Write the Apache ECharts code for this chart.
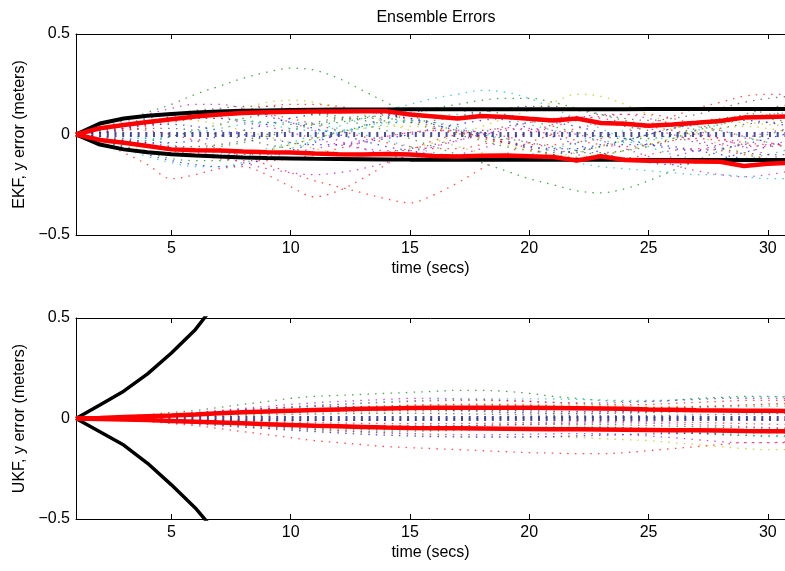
<!DOCTYPE html>
<html>
<head>
<meta charset="utf-8">
<script src="https://cdn.jsdelivr.net/npm/echarts@6/dist/echarts.min.js"></script>
<style>html,body{margin:0;padding:0;background:#fff;}#c{width:785px;height:571px;}</style>
</head>
<body>
<div id="c"></div>
<script>
// ---------- data ----------
const times = [1,2,3,4,5,6,7,8,9,10,11,12,13,14,15,16,17,18,19,20,21,22,23,24,25,26,27,28,29,30,31];
const xTickValues = [5,10,15,20,25,30];
const yTickValues = [-0.5,0,0.5];

// EKF ensemble members (y error, metres)
const ekf1  = [0,0.03,0.07,0.11,0.15,0.2,0.24,0.28,0.31,0.33,0.32,0.28,0.22,0.16,0.1,0.05,0.02,0.0,-0.02,-0.04,-0.06,-0.08,-0.1,-0.08,-0.05,-0.02,0.02,0.05,0.08,0.1,0.11];
const ekf2  = [0,-0.04,-0.09,-0.15,-0.22,-0.2,-0.17,-0.16,-0.2,-0.26,-0.31,-0.28,-0.22,-0.15,-0.08,-0.03,0.0,0.02,0.03,0.02,0.0,-0.03,-0.05,-0.06,-0.05,-0.03,-0.02,-0.03,-0.05,-0.06,-0.05];
const ekf3  = [0,0.02,0.03,0.02,0.0,-0.03,-0.07,-0.11,-0.15,-0.19,-0.23,-0.26,-0.29,-0.32,-0.34,-0.3,-0.24,-0.17,-0.1,-0.04,0.0,0.03,0.05,0.05,0.04,0.02,0.0,-0.02,-0.04,-0.05,-0.05];
const ekf4  = [0,0.01,0.0,-0.02,-0.05,-0.08,-0.1,-0.09,-0.07,-0.04,0.0,0.04,0.08,0.12,0.15,0.18,0.2,0.22,0.21,0.18,0.13,0.08,0.03,-0.02,-0.06,-0.1,-0.12,-0.13,-0.12,-0.1,-0.07];
const ekf5  = [0,0.02,0.05,0.07,0.08,0.07,0.05,0.02,-0.01,-0.04,-0.07,-0.09,-0.1,-0.09,-0.07,-0.04,0.0,0.04,0.08,0.12,0.16,0.2,0.19,0.15,0.1,0.05,0.0,-0.05,-0.09,-0.12,-0.13];
const ekf6  = [0,-0.02,-0.03,-0.03,-0.01,0.02,0.05,0.08,0.1,0.11,0.1,0.08,0.05,0.02,-0.02,-0.06,-0.1,-0.14,-0.18,-0.22,-0.25,-0.28,-0.29,-0.27,-0.23,-0.18,-0.13,-0.08,-0.04,0.0,0.03];
const ekf7  = [0,0.03,0.06,0.1,0.13,0.15,0.15,0.13,0.1,0.06,0.02,-0.03,-0.07,-0.1,-0.12,-0.12,-0.1,-0.07,-0.03,0.01,0.05,0.08,0.1,0.1,0.08,0.05,0.02,-0.02,-0.06,-0.1,-0.13];
const ekf8  = [0,-0.03,-0.06,-0.1,-0.13,-0.15,-0.16,-0.15,-0.12,-0.08,-0.04,0.0,0.04,0.08,0.11,0.12,0.12,0.1,0.07,0.03,-0.01,-0.05,-0.09,-0.12,-0.14,-0.15,-0.14,-0.12,-0.09,-0.06,-0.03];
const ekf9  = [0,0.02,0.05,0.08,0.1,0.12,0.13,0.14,0.14,0.13,0.11,0.09,0.07,0.06,0.06,0.07,0.09,0.11,0.13,0.14,0.14,0.12,0.1,0.08,0.07,0.08,0.1,0.13,0.16,0.18,0.19];
const ekf10 = [0,0.01,0.02,0.04,0.06,0.08,0.1,0.12,0.14,0.15,0.15,0.14,0.12,0.1,0.07,0.04,0.01,-0.02,-0.04,-0.05,-0.05,-0.04,-0.02,0.01,0.05,0.09,0.13,0.16,0.19,0.2,0.2];
const ekf11 = [0,-0.03,-0.07,-0.11,-0.14,-0.16,-0.16,-0.14,-0.11,-0.07,-0.03,0.01,0.04,0.06,0.07,0.06,0.04,0.01,-0.03,-0.07,-0.11,-0.14,-0.16,-0.17,-0.18,-0.19,-0.2,-0.2,-0.21,-0.22,-0.22];
const ekf12 = [0,-0.02,-0.04,-0.06,-0.07,-0.09,-0.11,-0.14,-0.17,-0.19,-0.2,-0.19,-0.17,-0.14,-0.1,-0.06,-0.03,0.0,0.02,0.03,0.02,0.0,-0.03,-0.07,-0.11,-0.15,-0.18,-0.2,-0.21,-0.2,-0.18];
const ekf13 = [0,0.02,0.04,0.05,0.07,0.09,0.11,0.13,0.16,0.17,0.16,0.13,0.1,0.06,0.02,-0.02,-0.06,-0.09,-0.11,-0.12,-0.11,-0.09,-0.06,-0.03,0.0,0.03,0.05,0.06,0.06,0.05,0.04];
const ekf14 = [0,-0.03,-0.06,-0.09,-0.12,-0.13,-0.13,-0.11,-0.08,-0.05,-0.02,0.01,0.04,0.07,0.1,0.13,0.15,0.17,0.18,0.18,0.16,0.13,0.1,0.07,0.05,0.04,0.05,0.07,0.1,0.13,0.15];
const ekf15 = [0,0.01,0.03,0.06,0.09,0.11,0.12,0.11,0.09,0.06,0.03,0.0,-0.03,-0.06,-0.08,-0.1,-0.12,-0.13,-0.13,-0.12,-0.1,-0.08,-0.06,-0.05,-0.05,-0.06,-0.08,-0.1,-0.12,-0.14,-0.15];
const ekf16 = [0,-0.01,-0.03,-0.05,-0.06,-0.06,-0.05,-0.03,0.0,0.03,0.06,0.08,0.09,0.09,0.08,0.06,0.03,0.0,-0.03,-0.06,-0.08,-0.09,-0.09,-0.08,-0.06,-0.03,0.0,0.03,0.05,0.06,0.06];
const ekf17 = [0,0.02,0.04,0.05,0.05,0.04,0.02,0.0,-0.02,-0.04,-0.05,-0.05,-0.04,-0.02,0.0,0.03,0.05,0.07,0.08,0.08,0.06,0.04,0.01,-0.02,-0.05,-0.07,-0.08,-0.07,-0.05,-0.02,0.01];
const ekf18 = [0,-0.02,-0.04,-0.06,-0.07,-0.07,-0.06,-0.04,-0.01,0.02,0.05,0.07,0.08,0.08,0.06,0.03,0.0,-0.03,-0.06,-0.08,-0.09,-0.08,-0.06,-0.03,0.0,0.03,0.06,0.08,0.09,0.08,0.06];
const ekf19 = [0,0.01,0.03,0.05,0.08,0.1,0.11,0.11,0.1,0.08,0.05,0.02,-0.01,-0.04,-0.06,-0.07,-0.07,-0.05,-0.02,0.01,0.04,0.07,0.09,0.1,0.1,0.08,0.05,0.02,-0.01,-0.04,-0.06];
const ekf20 = [0,0.02,0.05,0.08,0.1,0.1,0.09,0.07,0.05,0.03,0.02,0.02,0.03,0.05,0.07,0.09,0.1,0.1,0.08,0.05,0.02,-0.01,-0.03,-0.04,-0.03,-0.01,0.02,0.05,0.08,0.1,0.11];
const ekf21 = [0,-0.01,-0.02,-0.04,-0.06,-0.08,-0.09,-0.1,-0.1,-0.09,-0.07,-0.05,-0.03,-0.01,0.01,0.02,0.02,0.01,-0.01,-0.04,-0.07,-0.1,-0.12,-0.13,-0.13,-0.11,-0.08,-0.05,-0.02,0.01,0.03];
const ekf22 = [0,-0.02,-0.05,-0.08,-0.1,-0.11,-0.11,-0.1,-0.08,-0.05,-0.02,0.01,0.03,0.04,0.04,0.03,0.01,-0.02,-0.05,-0.08,-0.1,-0.11,-0.1,-0.08,-0.05,-0.02,0.01,0.03,0.04,0.03,0.01];
const ekf23 = [0,0.01,0.02,0.03,0.03,0.02,0.0,-0.02,-0.05,-0.07,-0.09,-0.1,-0.1,-0.09,-0.07,-0.05,-0.02,0.01,0.04,0.06,0.07,0.07,0.06,0.04,0.02,-0.01,-0.04,-0.07,-0.09,-0.1,-0.1];
const ekf24 = [0,-0.02,-0.03,-0.04,-0.04,-0.03,-0.01,0.02,0.05,0.08,0.1,0.11,0.11,0.1,0.08,0.05,0.02,-0.01,-0.04,-0.06,-0.07,-0.07,-0.05,-0.03,0.0,0.03,0.05,0.07,0.07,0.06,0.04];
const ekf25 = [0,0.02,0.04,0.06,0.07,0.08,0.08,0.07,0.06,0.05,0.05,0.06,0.08,0.1,0.12,0.13,0.13,0.12,0.1,0.07,0.04,0.01,-0.01,-0.02,-0.02,0.0,0.03,0.06,0.09,0.12,0.14];
const ekf26 = [0,-0.01,-0.03,-0.05,-0.08,-0.1,-0.12,-0.13,-0.13,-0.12,-0.1,-0.07,-0.04,-0.01,0.01,0.02,0.01,-0.01,-0.04,-0.07,-0.1,-0.12,-0.13,-0.12,-0.1,-0.08,-0.07,-0.08,-0.1,-0.12,-0.13];
const ekf27 = [0,-0.01,-0.02,-0.02,-0.01,0.01,0.03,0.05,0.06,0.06,0.05,0.03,0.0,-0.03,-0.06,-0.09,-0.11,-0.12,-0.12,-0.1,-0.07,-0.04,-0.01,0.02,0.04,0.05,0.04,0.02,-0.01,-0.04,-0.07];
const ekf28 = [0,0.01,0.03,0.05,0.07,0.08,0.08,0.06,0.04,0.01,-0.02,-0.05,-0.07,-0.08,-0.08,-0.06,-0.03,0.0,0.03,0.06,0.08,0.09,0.08,0.06,0.03,0.0,-0.03,-0.05,-0.06,-0.05,-0.03];
const zeroTrack = [0,0,0,0,0,0,0,0,0,0,0,0,0,0,0,0,0,0,0,0,0,0,0,0,0,0,0,0,0,0,0];

const ekfRedUpper = [0,0.031,0.047,0.062,0.076,0.089,0.1,0.107,0.111,0.113,0.114,0.115,0.116,0.116,0.1,0.09,0.08,0.092,0.087,0.078,0.07,0.08,0.057,0.053,0.044,0.05,0.058,0.067,0.084,0.087,0.09];
const ekfRedLower = [0,-0.027,-0.041,-0.057,-0.074,-0.078,-0.08,-0.085,-0.088,-0.09,-0.095,-0.098,-0.1,-0.097,-0.1,-0.107,-0.11,-0.106,-0.105,-0.108,-0.112,-0.13,-0.108,-0.127,-0.13,-0.132,-0.134,-0.136,-0.157,-0.145,-0.14];
const ekfBlackUpper = [0,0.055,0.08,0.093,0.102,0.109,0.114,0.118,0.12,0.122,0.123,0.124,0.125,0.125,0.126,0.126,0.126,0.126,0.126,0.126,0.126,0.126,0.126,0.126,0.127,0.127,0.127,0.127,0.127,0.127,0.127];
const ekfBlackLower = [0,-0.05,-0.074,-0.088,-0.098,-0.105,-0.11,-0.114,-0.117,-0.119,-0.121,-0.122,-0.123,-0.124,-0.125,-0.125,-0.125,-0.125,-0.126,-0.126,-0.126,-0.126,-0.126,-0.126,-0.127,-0.127,-0.127,-0.127,-0.127,-0.127,-0.127];

// UKF ensemble members
const ukf1  = [0,-0.003,-0.008,-0.015,-0.025,-0.035,-0.05,-0.065,-0.08,-0.095,-0.11,-0.12,-0.13,-0.14,-0.145,-0.15,-0.155,-0.16,-0.165,-0.17,-0.172,-0.175,-0.175,-0.17,-0.16,-0.15,-0.14,-0.13,-0.12,-0.12,-0.12];
const ukf2  = [0,0.004,0.01,0.02,0.03,0.04,0.055,0.07,0.085,0.1,0.11,0.115,0.12,0.125,0.13,0.135,0.14,0.14,0.135,0.125,0.11,0.1,0.09,0.085,0.085,0.09,0.1,0.105,0.11,0.11,0.105];
const ukf3  = [0,0.003,0.007,0.012,0.02,0.028,0.036,0.045,0.05,0.055,0.06,0.06,0.058,0.055,0.05,0.045,0.04,0.035,0.03,0.028,0.025,0.025,0.025,0.028,0.03,0.033,0.035,0.035,0.033,0.03,0.028];
const ukf4  = [0,-0.002,-0.005,-0.01,-0.016,-0.022,-0.03,-0.038,-0.045,-0.05,-0.055,-0.06,-0.063,-0.065,-0.065,-0.063,-0.06,-0.055,-0.05,-0.045,-0.04,-0.038,-0.04,-0.045,-0.05,-0.06,-0.07,-0.08,-0.085,-0.09,-0.09];
const ukf5  = [0,0.003,0.008,0.015,0.022,0.03,0.04,0.05,0.06,0.07,0.078,0.085,0.09,0.095,0.1,0.1,0.098,0.095,0.09,0.085,0.08,0.078,0.078,0.08,0.085,0.09,0.095,0.1,0.1,0.1,0.098];
const ukf6  = [0,-0.002,-0.006,-0.012,-0.018,-0.025,-0.032,-0.04,-0.047,-0.053,-0.06,-0.065,-0.07,-0.075,-0.08,-0.085,-0.088,-0.09,-0.09,-0.09,-0.092,-0.095,-0.1,-0.105,-0.11,-0.12,-0.13,-0.14,-0.15,-0.155,-0.155];
const ukf7  = [0,0.001,0.003,0.005,0.008,0.01,0.012,0.015,0.018,0.02,0.022,0.024,0.025,0.026,0.026,0.025,0.024,0.022,0.02,0.018,0.016,0.015,0.014,0.014,0.015,0.016,0.018,0.02,0.022,0.024,0.025];
const ukf8  = [0,0.003,0.008,0.014,0.02,0.027,0.035,0.043,0.05,0.058,0.065,0.07,0.075,0.08,0.085,0.088,0.09,0.09,0.088,0.085,0.08,0.075,0.07,0.068,0.07,0.075,0.08,0.085,0.09,0.09,0.09];
const ukf9  = [0,-0.002,-0.005,-0.009,-0.014,-0.02,-0.026,-0.032,-0.038,-0.043,-0.048,-0.052,-0.055,-0.057,-0.058,-0.058,-0.056,-0.054,-0.052,-0.05,-0.05,-0.052,-0.055,-0.06,-0.065,-0.07,-0.075,-0.08,-0.083,-0.085,-0.085];
const ukf10 = [0,-0.003,-0.008,-0.014,-0.02,-0.027,-0.035,-0.043,-0.05,-0.058,-0.065,-0.072,-0.078,-0.083,-0.087,-0.09,-0.092,-0.093,-0.093,-0.092,-0.09,-0.087,-0.083,-0.08,-0.077,-0.075,-0.073,-0.072,-0.072,-0.072,-0.072];
const ukf11 = [0,0.002,0.005,0.01,0.016,0.022,0.03,0.038,0.046,0.054,0.062,0.07,0.077,0.083,0.088,0.092,0.095,0.097,0.098,0.098,0.097,0.095,0.092,0.09,0.09,0.092,0.095,0.1,0.105,0.108,0.11];
const ukf12 = [0,-0.002,-0.005,-0.01,-0.015,-0.02,-0.026,-0.033,-0.04,-0.047,-0.054,-0.06,-0.066,-0.071,-0.075,-0.078,-0.08,-0.081,-0.08,-0.078,-0.076,-0.075,-0.076,-0.08,-0.087,-0.095,-0.105,-0.115,-0.12,-0.12,-0.115];
const ukf13 = [0,0.002,0.004,0.008,0.012,0.017,0.022,0.028,0.034,0.04,0.046,0.052,0.057,0.062,0.066,0.07,0.072,0.073,0.073,0.072,0.07,0.068,0.065,0.062,0.06,0.06,0.06,0.062,0.065,0.068,0.07];
const ukf14 = [0,-0.001,-0.002,-0.004,-0.006,-0.008,-0.01,-0.012,-0.015,-0.018,-0.02,-0.022,-0.024,-0.025,-0.026,-0.026,-0.025,-0.024,-0.022,-0.02,-0.018,-0.016,-0.015,-0.015,-0.016,-0.018,-0.02,-0.022,-0.025,-0.028,-0.03];
const ukf15 = [0,0.001,0.003,0.006,0.01,0.014,0.018,0.022,0.026,0.03,0.033,0.036,0.038,0.04,0.041,0.042,0.042,0.041,0.04,0.038,0.036,0.035,0.034,0.034,0.035,0.036,0.038,0.04,0.042,0.044,0.045];
const ukf16 = [0,-0.001,-0.003,-0.006,-0.01,-0.014,-0.018,-0.022,-0.026,-0.03,-0.033,-0.035,-0.037,-0.038,-0.038,-0.037,-0.036,-0.034,-0.032,-0.03,-0.029,-0.029,-0.03,-0.032,-0.035,-0.038,-0.041,-0.044,-0.046,-0.048,-0.05];
const ukf17 = [0,0.002,0.004,0.007,0.011,0.015,0.02,0.025,0.03,0.035,0.04,0.045,0.05,0.054,0.058,0.061,0.063,0.064,0.064,0.063,0.061,0.059,0.057,0.055,0.054,0.054,0.055,0.057,0.059,0.06,0.06];
const ukf18 = [0,-0.001,-0.002,-0.004,-0.007,-0.01,-0.013,-0.016,-0.02,-0.024,-0.028,-0.031,-0.034,-0.036,-0.037,-0.037,-0.036,-0.034,-0.031,-0.028,-0.025,-0.023,-0.022,-0.022,-0.024,-0.027,-0.031,-0.035,-0.04,-0.045,-0.048];
const ukf19 = [0,0.0,-0.001,-0.002,-0.003,-0.005,-0.006,-0.008,-0.009,-0.01,-0.01,-0.01,-0.009,-0.008,-0.006,-0.004,-0.002,0.0,0.002,0.004,0.005,0.006,0.006,0.005,0.004,0.002,0.0,-0.002,-0.004,-0.006,-0.008];
const ukf20 = [0,0.001,0.002,0.004,0.006,0.009,0.012,0.015,0.018,0.021,0.024,0.027,0.03,0.032,0.034,0.035,0.035,0.035,0.034,0.032,0.03,0.029,0.028,0.028,0.029,0.031,0.034,0.037,0.04,0.043,0.045];
const ukf21 = [0,0.002,0.005,0.009,0.014,0.019,0.025,0.031,0.037,0.043,0.049,0.054,0.059,0.063,0.066,0.068,0.069,0.069,0.068,0.066,0.063,0.06,0.057,0.055,0.054,0.055,0.058,0.062,0.067,0.072,0.076];
const ukf22 = [0,-0.002,-0.004,-0.007,-0.011,-0.015,-0.02,-0.025,-0.03,-0.035,-0.04,-0.044,-0.048,-0.051,-0.053,-0.054,-0.054,-0.053,-0.051,-0.049,-0.047,-0.046,-0.046,-0.047,-0.049,-0.052,-0.056,-0.06,-0.064,-0.067,-0.07];

const ukfRedUpper = [0,0.003,0.007,0.011,0.015,0.02,0.026,0.031,0.035,0.039,0.042,0.045,0.048,0.05,0.052,0.053,0.054,0.054,0.054,0.053,0.052,0.051,0.05,0.048,0.045,0.043,0.041,0.04,0.039,0.038,0.037];
const ukfRedLower = [0,-0.002,-0.005,-0.008,-0.012,-0.016,-0.02,-0.024,-0.028,-0.032,-0.036,-0.039,-0.042,-0.045,-0.047,-0.048,-0.049,-0.05,-0.051,-0.052,-0.053,-0.054,-0.055,-0.056,-0.057,-0.058,-0.059,-0.06,-0.062,-0.063,-0.064];
const ukfBlackUpper = [0,0.067,0.136,0.222,0.326,0.442,0.595,0.75,null,null,null,null,null,null,null,null,null,null,null,null,null,null,null,null,null,null,null,null,null,null,null];
const ukfBlackLower = [0,-0.066,-0.132,-0.223,-0.33,-0.445,-0.585,-0.74,null,null,null,null,null,null,null,null,null,null,null,null,null,null,null,null,null,null,null,null,null,null,null];

const ekfMembers = [ekf1,ekf2,ekf3,ekf4,ekf5,ekf6,ekf7,ekf8,ekf9,ekf10,ekf11,ekf12,ekf13,ekf14,ekf15,ekf16,ekf17,ekf18,ekf19,ekf20,ekf21,ekf22,ekf23,ekf24,ekf25,ekf26,ekf27,ekf28];
const ekfMemberColors = ['#008000','#ff0000','#ff0000','#00bfbf','#bfbf00','#008000','#bf00bf','#0000ff','#404040','#ff0000','#00bfbf','#bf00bf','#bfbf00','#008000','#0000ff','#404040',
  '#0000ff','#008000','#ff0000','#00bfbf','#bf00bf','#bfbf00','#404040','#0000ff','#008000','#ff0000','#00bfbf','#bf00bf'];
const ukfMembers = [ukf1,ukf2,ukf3,ukf4,ukf5,ukf6,ukf7,ukf8,ukf9,ukf10,ukf11,ukf12,ukf13,ukf14,ukf15,ukf16,ukf17,ukf18,ukf19,ukf20,ukf21,ukf22];
const ukfMemberColors = ['#ff0000','#008000','#0000ff','#00bfbf','#bf00bf','#bfbf00','#404040','#ff0000','#008000','#0000ff','#00bfbf','#bf00bf','#bfbf00','#ff0000',
  '#0000ff','#008000','#00bfbf','#bf00bf','#404040','#bfbf00','#ff0000','#0000ff'];

// ---------- chart ----------
const FONT = 'Liberation Sans, Arial, sans-serif';
const pairs = arr => times.map((t, i) => [t, arr[i]]);

function xAxes(gi) {
  return [{
    type: 'value', gridIndex: gi, min: 1, max: 30.72, position: 'bottom',
    name: 'time (secs)', nameLocation: 'middle', nameGap: 26,
    nameTextStyle: { fontFamily: FONT, fontSize: 16, color: '#000' },
    axisLine: { show: true, onZero: false, lineStyle: { color: '#000', width: 1 } },
    axisTick: { show: true, inside: true, length: 5, customValues: xTickValues, lineStyle: { color: '#000' } },
    axisLabel: { show: true, customValues: xTickValues, margin: 6, fontFamily: FONT, fontSize: 16, color: '#000' },
    splitLine: { show: false }
  }, {
    type: 'value', gridIndex: gi, min: 1, max: 30.72, position: 'top',
    axisLine: { show: true, onZero: false, lineStyle: { color: '#000', width: 1 } },
    axisTick: { show: true, inside: true, length: 5, customValues: xTickValues, lineStyle: { color: '#000' } },
    axisLabel: { show: false },
    splitLine: { show: false }
  }];
}
function yAxis(gi, name) {
  return {
    type: 'value', gridIndex: gi, min: yTickValues[0], max: yTickValues[2], interval: 0.5,
    name: name, nameLocation: 'middle', nameGap: 47, nameRotate: 90,
    nameTextStyle: { fontFamily: FONT, fontSize: 16, color: '#000' },
    axisLine: { show: true, onZero: false, lineStyle: { color: '#000', width: 1 } },
    axisTick: { show: true, inside: true, length: 5, lineStyle: { color: '#000' } },
    axisLabel: { margin: 6, fontFamily: FONT, fontSize: 16, color: '#000',
      formatter: v => (v < 0 ? '\u2212' + Math.abs(v) : String(v)) },
    splitLine: { show: false }
  };
}

const series = [];
function addPanel(members, colors, redU, redL, blkU, blkL, xi, yi, blkW) {
  members.forEach((m, i) => series.push({
    type: 'line', xAxisIndex: xi, yAxisIndex: yi, data: pairs(m), showSymbol: false, smooth: 0.35,
    silent: true, z: 2, lineStyle: { color: colors[i], width: 1.3, type: [1.5, 6.2], opacity: 0.7 }
  }));
  series.push({
    type: 'line', xAxisIndex: xi, yAxisIndex: yi, data: pairs(zeroTrack), showSymbol: false,
    silent: true, z: 3, lineStyle: { color: '#2b2b8c', width: 5, type: [2, 5.7], opacity: 0.85 }
  });
  [blkU, blkL].forEach(d => series.push({
    type: 'line', xAxisIndex: xi, yAxisIndex: yi, data: pairs(d), showSymbol: false, connectNulls: false,
    silent: true, z: 4, lineStyle: { color: '#000', width: blkW }
  }));
  [redU, redL].forEach(d => series.push({
    type: 'line', xAxisIndex: xi, yAxisIndex: yi, data: pairs(d), showSymbol: false,
    silent: true, z: 5, lineStyle: { color: '#ff0000', width: 4.5 }
  }));
}
addPanel(ekfMembers, ekfMemberColors, ekfRedUpper, ekfRedLower, ekfBlackUpper, ekfBlackLower, 0, 0, 4);
addPanel(ukfMembers, ukfMemberColors, ukfRedUpper, ukfRedLower, ukfBlackUpper, ukfBlackLower, 2, 1, 3.5);

const chart = echarts.init(document.getElementById('c'), null, { renderer: 'canvas' });
chart.setOption({
  animation: false,
  backgroundColor: '#fff',
  title: { text: 'Ensemble Errors', left: 431, top: 5, textAlign: 'center',
    textStyle: { fontFamily: FONT, fontSize: 16, fontWeight: 'normal', color: '#000' } },
  grid: [
    { left: 76, right: 0, top: 34, height: 201, containLabel: false },
    { left: 76, right: 0, top: 318, height: 201, containLabel: false }
  ],
  xAxis: [...xAxes(0), ...xAxes(1)],
  yAxis: [yAxis(0, 'EKF, y error (meters)'), yAxis(1, 'UKF, y error (meters)')],
  series: series
});
</script>
</body>
</html>
